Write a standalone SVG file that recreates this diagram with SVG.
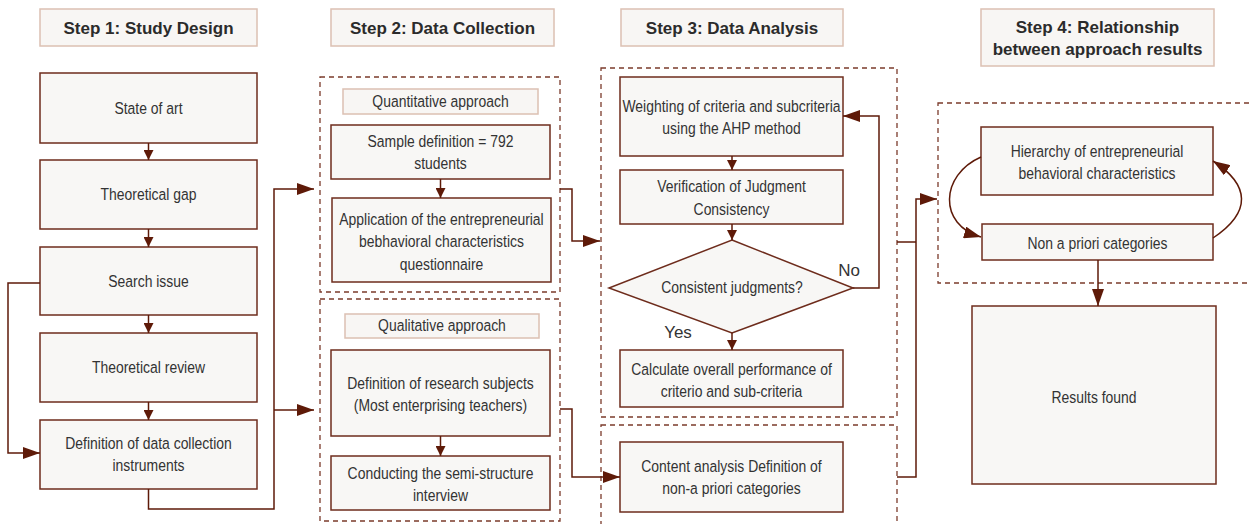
<svg xmlns="http://www.w3.org/2000/svg" width="1249" height="524" viewBox="0 0 1249 524">
<style>
.bg{fill:#ffffff}
.hdr{fill:#f8f6f4;stroke:#dcc0b2;stroke-width:1.5}
.lbl{fill:#f8f6f4;stroke:#dcc0b2;stroke-width:1.5}
.box{fill:#f8f7f5;stroke:#6e2c1c;stroke-width:1.5}
.dash{fill:none;stroke:#7b3b2b;stroke-width:1.3;stroke-dasharray:5 4}
.con{fill:none;stroke:#5e1a08;stroke-width:1.5}
.t{font-family:"Liberation Sans",Arial,sans-serif;font-size:17px;fill:#333333;text-anchor:middle}
.h{font-family:"Liberation Sans",Arial,sans-serif;font-size:17px;font-weight:bold;fill:#2b2b2b;text-anchor:middle}
.yn{font-family:"Liberation Sans",Arial,sans-serif;font-size:17px;fill:#333333;text-anchor:middle}
</style>
<defs>
<marker id="sm" markerUnits="userSpaceOnUse" markerWidth="10" markerHeight="10" viewBox="0 0 10 10" refX="10" refY="5" orient="auto">
<path d="M0,0 L10,5 L0,10 Z" fill="#5e1a08"/>
</marker>
<marker id="lg" markerUnits="userSpaceOnUse" markerWidth="17" markerHeight="12" viewBox="0 0 17 12" refX="17" refY="6" orient="auto">
<path d="M0,0 L17,6 L0,12 Z" fill="#5e1a08"/>
</marker>
</defs>
<rect class="bg" x="0" y="0" width="1249" height="524"/>

<g id="containers">
<rect class="dash" x="320" y="77" width="240" height="215"/>
<rect class="dash" x="320" y="299" width="240" height="222"/>
<rect class="dash" x="601" y="68" width="296" height="349"/>
<rect class="dash" x="601" y="425" width="296" height="110"/>
<rect class="dash" x="938" y="103" width="330" height="180"/>
</g>

<g id="header1"><rect class="hdr" x="40" y="9" width="217" height="37"/><text class="h" x="148.5" y="34">Step 1: Study Design</text></g>
<g id="header2"><rect class="hdr" x="331" y="9" width="223" height="37"/><text class="h" x="442.5" y="34">Step 2: Data Collection</text></g>
<g id="header3"><rect class="hdr" x="621" y="9" width="222" height="37"/><text class="h" x="732" y="34">Step 3: Data Analysis</text></g>
<g id="header4"><rect class="hdr" x="981" y="9" width="233" height="57"/><text class="h" x="1097.5" y="33">Step 4: Relationship</text><text class="h" x="1097.5" y="55">between approach results</text></g>

<g id="n_state"><rect class="box" x="40" y="73" width="217" height="70"/><text class="t" transform="translate(148.5,114) scale(0.82,1)">State of art</text></g>
<g id="n_gap"><rect class="box" x="40" y="160" width="217" height="69"/><text class="t" transform="translate(148.5,200) scale(0.82,1)">Theoretical gap</text></g>
<g id="n_search"><rect class="box" x="40" y="247" width="217" height="68"/><text class="t" transform="translate(148.5,287) scale(0.82,1)">Search issue</text></g>
<g id="n_review"><rect class="box" x="40" y="333" width="217" height="69"/><text class="t" transform="translate(148.5,373) scale(0.82,1)">Theoretical review</text></g>
<g id="n_instr"><rect class="box" x="40" y="420" width="217" height="69"/><text class="t" transform="translate(148.5,449) scale(0.82,1)">Definition of data collection</text><text class="t" transform="translate(148.5,471) scale(0.82,1)">instruments</text></g>

<g id="l_quant"><rect class="lbl" x="343" y="89" width="195" height="25"/><text class="t" transform="translate(440.5,107) scale(0.82,1)">Quantitative approach</text></g>
<g id="n_sample"><rect class="box" x="331" y="125" width="219" height="54"/><text class="t" transform="translate(440.5,147) scale(0.82,1)">Sample definition = 792</text><text class="t" transform="translate(440.5,169) scale(0.82,1)">students</text></g>
<g id="n_app"><rect class="box" x="332" y="198" width="219" height="84"/><text class="t" transform="translate(441.5,225) scale(0.82,1)">Application of the entrepreneurial</text><text class="t" transform="translate(441.5,247) scale(0.82,1)">bebhavioral characteristics</text><text class="t" transform="translate(441.5,270) scale(0.82,1)">questionnaire</text></g>
<g id="l_qual"><rect class="lbl" x="345" y="314" width="194" height="24"/><text class="t" transform="translate(442,331) scale(0.82,1)">Qualitative approach</text></g>
<g id="n_subjects"><rect class="box" x="331" y="350" width="219" height="86"/><text class="t" transform="translate(440.5,389) scale(0.82,1)">Definition of research subjects</text><text class="t" transform="translate(440.5,411) scale(0.82,1)">(Most enterprising teachers)</text></g>
<g id="n_interview"><rect class="box" x="331" y="456" width="219" height="54"/><text class="t" transform="translate(440.5,479) scale(0.82,1)">Conducting the semi-structure</text><text class="t" transform="translate(440.5,501) scale(0.82,1)">interview</text></g>

<g id="n_weight"><rect class="box" x="620" y="77" width="223" height="79"/><text class="t" transform="translate(731.5,112) scale(0.82,1)">Weighting of criteria and subcriteria</text><text class="t" transform="translate(731.5,134) scale(0.82,1)">using the AHP method</text></g>
<g id="n_verif"><rect class="box" x="620" y="170" width="223" height="54"/><text class="t" transform="translate(731.5,192) scale(0.82,1)">Verification of Judgment</text><text class="t" transform="translate(731.5,215) scale(0.82,1)">Consistency</text></g>
<g id="n_consistent"><polygon class="box" points="732,240 853,288 732,333 609,288"/><text class="t" transform="translate(732,293) scale(0.82,1)">Consistent judgments?</text></g>
<g id="n_calc"><rect class="box" x="620" y="350" width="223" height="57"/><text class="t" transform="translate(731.5,375) scale(0.82,1)">Calculate overall performance of</text><text class="t" transform="translate(731.5,397) scale(0.82,1)">criterio and sub-criteria</text></g>
<g id="n_content"><rect class="box" x="620" y="442" width="223" height="70"/><text class="t" transform="translate(731.5,472) scale(0.82,1)">Content analysis Definition of</text><text class="t" transform="translate(731.5,494) scale(0.82,1)">non-a priori categories</text></g>

<g id="n_hier"><rect class="box" x="981" y="127" width="232" height="68"/><text class="t" transform="translate(1097,157) scale(0.82,1)">Hierarchy of entrepreneurial</text><text class="t" transform="translate(1097,179) scale(0.82,1)">behavioral characteristics</text></g>
<g id="n_nonapriori"><rect class="box" x="982" y="224" width="231" height="36"/><text class="t" transform="translate(1097.5,249) scale(0.82,1)">Non a priori categories</text></g>
<g id="n_results"><rect class="box" x="972" y="306" width="244" height="178"/><text class="t" transform="translate(1094,403) scale(0.82,1)">Results found</text></g>

<g id="connectors">
<path class="con" d="M148.5,143 V160" marker-end="url(#sm)"/>
<path class="con" d="M148.5,229 V247" marker-end="url(#sm)"/>
<path class="con" d="M148.5,315 V333" marker-end="url(#sm)"/>
<path class="con" d="M148.5,402 V420" marker-end="url(#sm)"/>
<path class="con" d="M40,283 H8 V453 H40" marker-end="url(#lg)"/>
<path class="con" d="M148.5,489 V509 H274 V189 H314" marker-end="url(#lg)"/>
<path class="con" d="M274,410 H314" marker-end="url(#lg)"/>
<path class="con" d="M440.5,179 V198" marker-end="url(#sm)"/>
<path class="con" d="M440.5,436 V456" marker-end="url(#sm)"/>
<path class="con" d="M560,189 H572 V241 H600" marker-end="url(#lg)"/>
<path class="con" d="M560,409 H572 V477 H620" marker-end="url(#lg)"/>
<path class="con" d="M732,156 V170" marker-end="url(#sm)"/>
<path class="con" d="M732,224 V240" marker-end="url(#sm)"/>
<path class="con" d="M732,333 V350" marker-end="url(#sm)"/>
<path class="con" d="M853,288 H879 V116 H843" marker-end="url(#lg)"/>
<path class="con" d="M897,242 H916"/>
<path class="con" d="M897,477 H916 V199 H937" marker-end="url(#lg)"/>
<path class="con" d="M981,157 C940,175 938,225 981,237" marker-end="url(#lg)"/>
<path class="con" d="M1213,238 C1252,212 1250,185 1213,161" marker-end="url(#lg)"/>
<path class="con" d="M1098,260 V306" marker-end="url(#lg)"/>
</g>
<g id="labels">
<text class="yn" x="849" y="276">No</text>
<text class="yn" x="678" y="338">Yes</text>
</g>
</svg>
